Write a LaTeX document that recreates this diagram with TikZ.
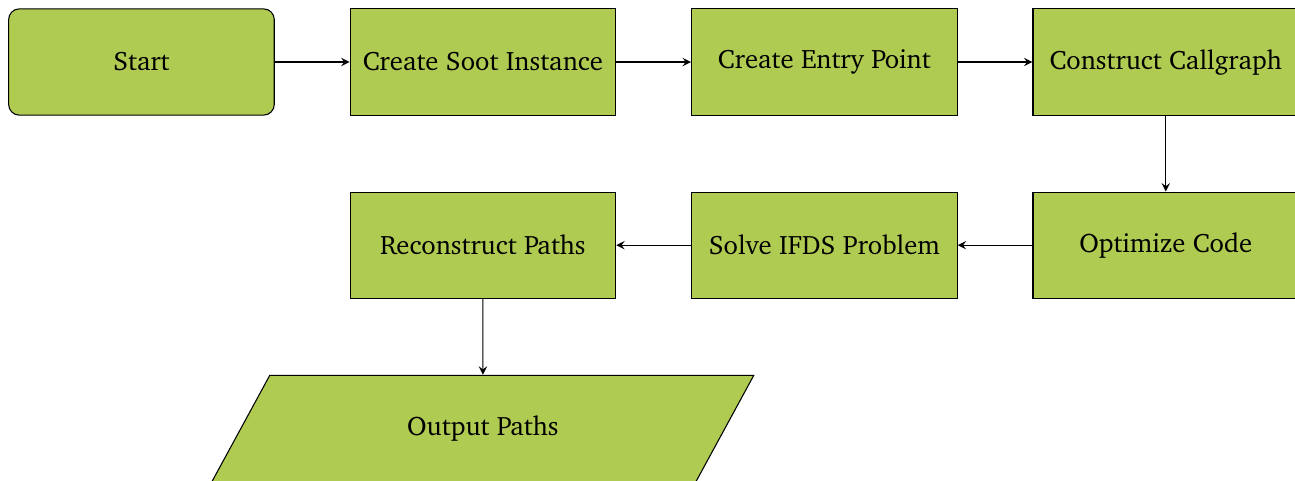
\documentclass[tikz,border=0pt]{standalone}
\usepackage[T1]{fontenc}
\usepackage{charter}
\usepackage{tikz}
\usetikzlibrary{arrows,positioning,shapes.geometric}
\definecolor{stepgreen}{RGB}{176,203,82}

\tikzset{
	startbox/.style={rectangle, rounded corners, draw=black, fill=stepgreen, minimum width=3.5cm, minimum height=1.4cm, text centered},
	procbox/.style={rectangle, draw=black, fill=stepgreen, minimum width=3.5cm, minimum height=1.4cm, text centered},
	iobox/.style={trapezium, trapezium left angle=62, trapezium right angle=118, trapezium stretches=true, draw=black, fill=stepgreen, minimum width=7.15cm, minimum height=1.4cm, text centered}
}

\begin{document}
\begin{tikzpicture}[node distance=1cm and 0.985cm, >=stealth]
\useasboundingbox (-1.864,0.817) rectangle (15.2,-5.515);
\node (start) [startbox] {Start};
\node (soot) [procbox, right=of start] {Create Soot Instance};
\node (entry) [procbox, right=of soot] {Create Entry Point};
\node (cg) [procbox, right=of entry] {Construct Callgraph};
\node (opt) [procbox, below=of cg] {Optimize Code};
\node (ifds) [procbox, left=of opt] {Solve IFDS Problem};
\node (paths) [procbox, left=of ifds] {Reconstruct Paths};
\node (out) [iobox, below=of paths] {Output Paths};
\path[->]
(start) edge (soot)
(soot) edge (entry)
(entry) edge (cg)
(cg) edge (opt)
(opt) edge (ifds)
(ifds) edge (paths)
(paths) edge (out);
\end{tikzpicture}
\end{document}
